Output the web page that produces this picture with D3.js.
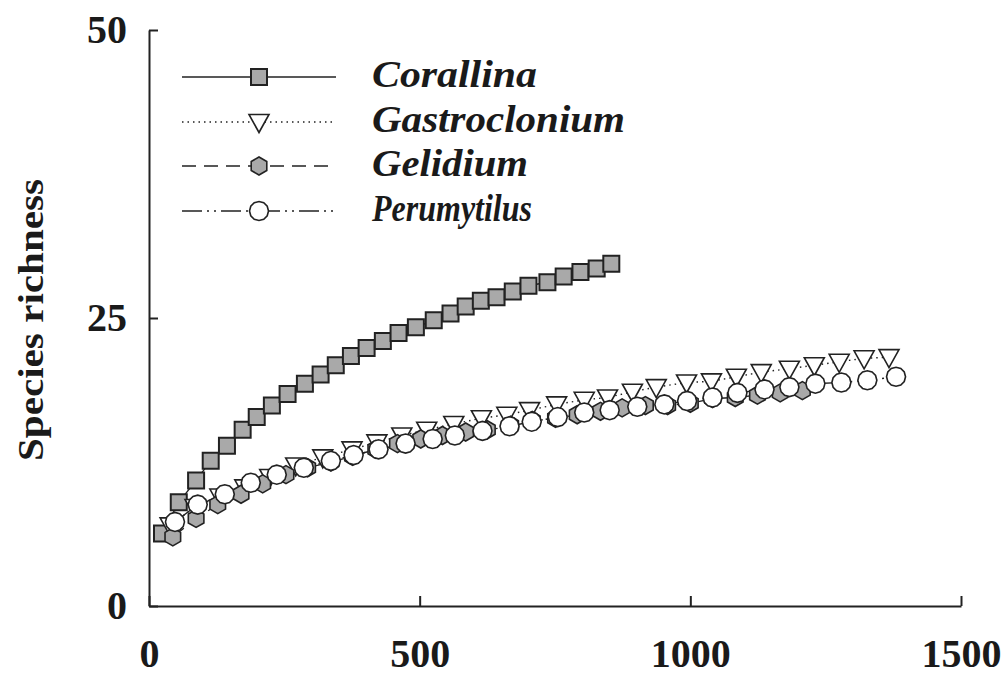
<!DOCTYPE html>
<html>
<head>
<meta charset="utf-8">
<script src="https://cdn.jsdelivr.net/npm/d3@7"></script>
<style>
  body { margin: 0; background: #fff; }
  svg text { font-family: "Liberation Serif", "Times New Roman", serif; font-weight: bold; fill: #1a1a1a; }
</style>
</head>
<body>
<div class="chart"></div>
<script>
// values
var seriesNames = ["Corallina", "Gastroclonium", "Gelidium", "Perumytilus"];

var coralX = [24, 55, 87, 114, 144, 173, 199, 227, 256, 288, 317, 345, 373, 402, 432, 461, 493, 526, 557, 585, 613, 642, 672, 701, 736, 766, 797, 827, 854];
var coralY = [6.3, 9.0, 10.9, 12.6, 13.9, 15.3, 16.4, 17.4, 18.4, 19.3, 20.1, 20.9, 21.7, 22.4, 23.0, 23.7, 24.2, 24.8, 25.4, 26.0, 26.5, 26.8, 27.3, 27.8, 28.1, 28.6, 29.0, 29.3, 29.7];

var gastroX = [39, 85, 131, 177, 223, 271, 321, 375, 421, 467, 513, 563, 614, 661, 703, 753, 804, 847, 893, 937, 993, 1039, 1085, 1131, 1183, 1229, 1275, 1321, 1367];
var gastroY = [7.0, 8.6, 9.5, 10.3, 11.2, 12.2, 12.9, 13.6, 14.2, 14.8, 15.3, 15.8, 16.3, 16.6, 17.0, 17.5, 17.9, 18.1, 18.6, 19.0, 19.4, 19.5, 19.9, 20.3, 20.6, 20.9, 21.2, 21.5, 21.6];

var gelX = [44, 87, 127, 170, 210, 253, 293, 336, 376, 419, 459, 502, 542, 585, 625, 668, 708, 751, 791, 834, 874, 917, 958, 1000, 1041, 1083, 1124, 1166, 1207];
var gelY = [6.0, 7.6, 8.8, 9.7, 10.6, 11.4, 12.0, 12.5, 13.0, 13.6, 14.1, 14.5, 14.8, 15.1, 15.3, 15.7, 16.1, 16.3, 16.6, 16.9, 17.2, 17.4, 17.4, 17.6, 18.0, 18.1, 18.3, 18.5, 18.7];

var peruX = [48, 90, 140, 188, 236, 286, 336, 378, 424, 474, 524, 565, 616, 666, 707, 755, 804, 851, 902, 952, 994, 1041, 1087, 1137, 1183, 1231, 1279, 1327, 1380];
var peruY = [7.3, 8.8, 9.7, 10.7, 11.4, 12.0, 12.6, 13.1, 13.6, 14.1, 14.5, 14.8, 15.2, 15.6, 16.0, 16.4, 16.8, 17.0, 17.3, 17.5, 17.8, 18.1, 18.5, 18.8, 19.0, 19.3, 19.4, 19.6, 19.9];

var xTicks = [0, 500, 1000, 1500];
var yTicks = [0, 25, 50];
var yTitle = "Species richness";

var width = 1008, height = 675;
var ink = "#222", grayFill = "#a9a9a9";

var svg = d3.select(".chart").append("svg").attr("width", width).attr("height", height);

var x = d3.scaleLinear().domain([0, 1500]).range([149, 961]);
var y = d3.scaleLinear().domain([0, 50]).range([606, 30]);

// marker shapes
function square(r) { return "M" + (-r) + "," + (-r) + "h" + (2 * r) + "v" + (2 * r) + "h" + (-2 * r) + "Z"; }
function triDown(r) { return "M" + (-r) + "," + (-r * 0.75) + "L" + r + "," + (-r * 0.75) + "L0," + (r * 1.05) + "Z"; }
function poly(r, n, rot) {
  var pts = d3.range(n).map(function (i) {
    var a = rot + i * 2 * Math.PI / n;
    return [r * Math.cos(a), r * Math.sin(a)];
  });
  return "M" + pts.join("L") + "Z";
}

var series = [
  { name: seriesNames[0], xs: coralX, ys: coralY, dash: null, shape: square(8), fill: grayFill, sw: 2 },
  { name: seriesNames[1], xs: gastroX, ys: gastroY, dash: "1.5,4", shape: triDown(10), fill: "#fff", sw: 1.6 },
  { name: seriesNames[2], xs: gelX, ys: gelY, dash: "14,8", shape: poly(9, 6, Math.PI / 6), fill: grayFill, sw: 1.6 },
  { name: seriesNames[3], xs: peruX, ys: peruY, dash: "20,5,2,5,2,5", shape: poly(9.5, 12, 0), fill: "#fff", sw: 1.6 }
];

var line = d3.line().x(function (d) { return x(d[0]); }).y(function (d) { return y(d[1]); });

// lines first
series.forEach(function (s) {
  var pts = s.xs.map(function (v, i) { return [v, s.ys[i]]; });
  svg.append("path")
    .attr("d", line(pts))
    .attr("fill", "none")
    .attr("stroke", ink)
    .attr("stroke-width", 1.4)
    .attr("stroke-dasharray", s.dash);
});

// markers
series.forEach(function (s) {
  var pts = s.xs.map(function (v, i) { return [v, s.ys[i]]; });
  svg.append("g").selectAll("path")
    .data(pts)
    .enter()
    .append("path")
    .attr("d", s.shape)
    .attr("transform", function (d) { return "translate(" + x(d[0]) + "," + y(d[1]) + ")"; })
    .attr("fill", s.fill)
    .attr("stroke", ink)
    .attr("stroke-width", s.sw);
});

// axes
var yAxis = svg.append("g")
  .attr("transform", "translate(149,0)")
  .call(d3.axisLeft(y).tickValues(yTicks).tickFormat(d3.format("d")).tickSize(-9).tickSizeOuter(0).tickPadding(22));
var xAxis = svg.append("g")
  .attr("transform", "translate(0,606)")
  .call(d3.axisBottom(x).tickValues(xTicks).tickFormat(d3.format("d")).tickSize(-10).tickSizeOuter(0).tickPadding(33));

[xAxis, yAxis].forEach(function (g) {
  g.selectAll(".domain, line").attr("stroke", ink).attr("stroke-width", 2);
  g.selectAll("text").attr("font-size", 40).attr("fill", "#1a1a1a")
    .style("font-family", '"Liberation Serif", "Times New Roman", serif').style("font-weight", "bold");
});

// y title
svg.append("text")
  .attr("transform", "translate(43,320) rotate(-90)")
  .attr("text-anchor", "middle")
  .attr("font-size", 36)
  .attr("textLength", 282)
  .attr("lengthAdjust", "spacingAndGlyphs")
  .text(yTitle);

// legend
var legY = [77, 122, 166, 211];
var legW = [165, 253, 156, 160];
series.forEach(function (s, i) {
  var g = svg.append("g").attr("transform", "translate(0," + legY[i] + ")");
  g.append("line")
    .attr("x1", 182).attr("x2", 336)
    .attr("stroke", ink).attr("stroke-width", 1.6)
    .attr("stroke-dasharray", s.dash);
  g.append("path")
    .attr("d", s.shape)
    .attr("transform", "translate(259,0)")
    .attr("fill", s.fill)
    .attr("stroke", ink)
    .attr("stroke-width", s.sw);
  g.append("text")
    .attr("x", 372).attr("y", 10)
    .attr("font-size", 37)
    .attr("font-style", "italic")
    .attr("textLength", legW[i])
    .attr("lengthAdjust", "spacingAndGlyphs")
    .text(s.name);
});
</script>
</body>
</html>
